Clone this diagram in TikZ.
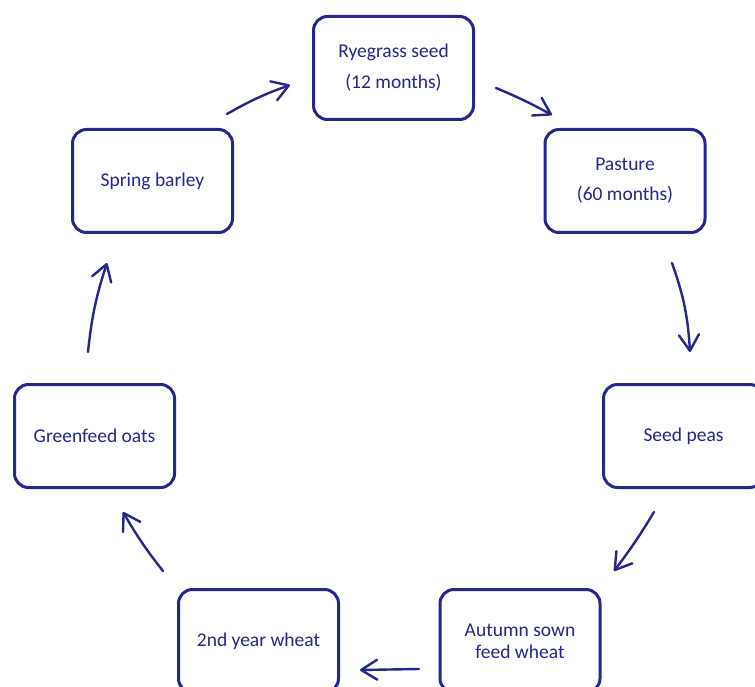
\documentclass[tikz,border=0pt]{standalone}
\usepackage{fontspec}
\setmainfont{Carlito}
\usetikzlibrary{arrows.meta}
\definecolor{navy}{RGB}{38,38,140}
\begin{document}
\begin{tikzpicture}[x=1pt,y=1pt,
  cropbox/.style={draw=navy, line width=3pt, rounded corners=14pt,
    minimum width=160pt, minimum height=103pt, align=center,
    text=navy, font=\fontsize{19.5pt}{22pt}\selectfont},
  cycle/.style={draw=navy, line width=2.4pt, line cap=round,
    -{Straight Barb[length=16pt,width=20pt,line join=round,line cap=round]}}]
  \clip (0,0) rectangle (755,-687);
  \fill[white] (0,0) rectangle (755,-687);

  % crop stages
  \node[cropbox] (rye)    at (393.5,-68)  {Ryegrass seed\\[9pt](12 months)};
  \node[cropbox] (pasture) at (625,-181)  {Pasture\\[8pt](60 months)};
  \node[cropbox] (peas)   at (683.5,-436) {Seed peas};
  \node[cropbox] (autumn) at (520,-641)   {Autumn sown\\feed wheat};
  \node[cropbox] (wheat)  at (258.5,-641) {2nd year wheat};
  \node[cropbox] (oats)   at (94.5,-436)  {Greenfeed oats};
  \node[cropbox] (barley) at (152.5,-181) {Spring barley};

  % arrow end points between the stages
  \coordinate (b1) at (227,-114); \coordinate (e1) at (290,-85);
  \coordinate (b2) at (496,-88);  \coordinate (e2) at (552,-115);
  \coordinate (b3) at (672,-263); \coordinate (e3) at (690,-352);
  \coordinate (b4) at (654,-512); \coordinate (e4) at (614,-571);
  \coordinate (b5) at (419,-669); \coordinate (e5) at (360,-670);
  \coordinate (b6) at (163,-571); \coordinate (e6) at (123,-512);
  \coordinate (b7) at (88,-352);  \coordinate (e7) at (107,-263);

  % rotation cycle
  \draw[cycle] (b1) to[bend left=5] (e1);
  \draw[cycle] (b2) to[bend left=3] (e2);
  \draw[cycle] (b3) to[bend left=8] (e3);
  \draw[cycle] (b4) to[bend left=3] (e4);
  \draw[cycle] (b5) -- (e5);
  \draw[cycle] (b6) to[bend left=4] (e6);
  \draw[cycle] (b7) to[bend left=6] (e7);
\end{tikzpicture}
\end{document}
